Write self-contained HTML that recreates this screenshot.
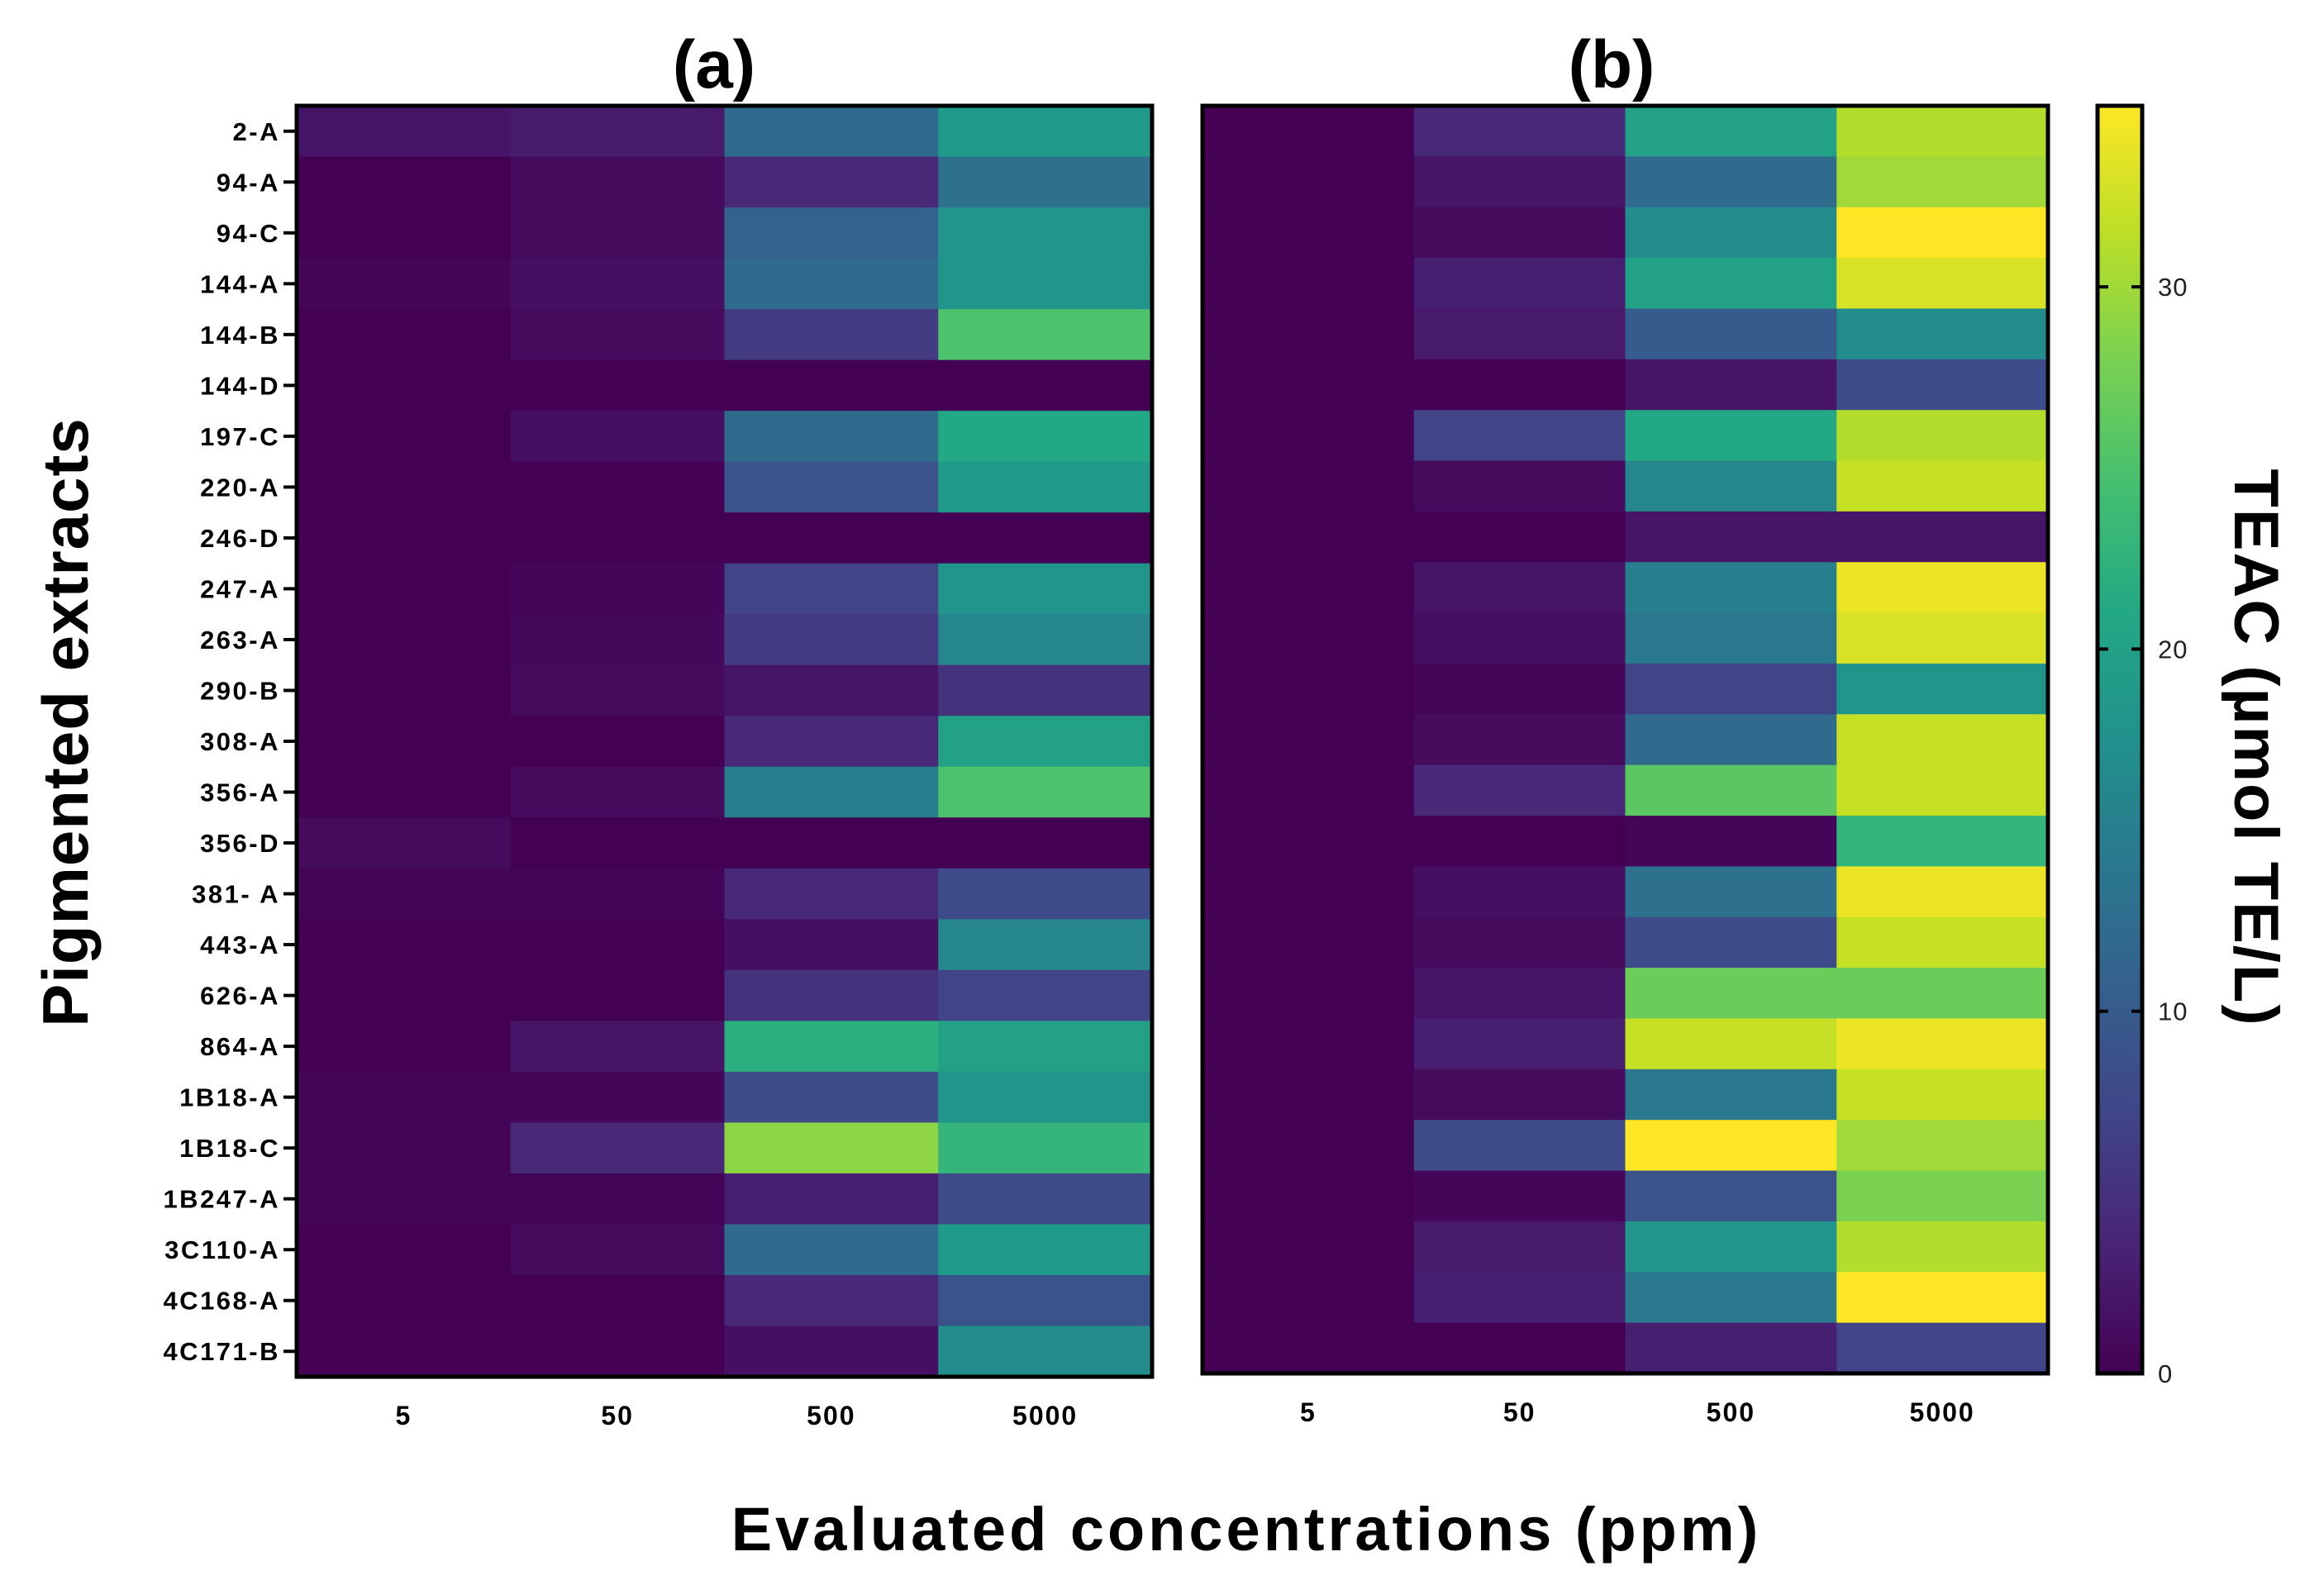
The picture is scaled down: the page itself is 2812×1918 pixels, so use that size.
<!DOCTYPE html>
<html><head><meta charset="utf-8"><style>
html,body{margin:0;padding:0;background:#fff;}
svg{display:block;font-family:"Liberation Sans",Arial,sans-serif;}
</style></head><body>
<svg id="chart" width="2812" height="1918" viewBox="0 0 2812 1918" xmlns="http://www.w3.org/2000/svg">
<defs>
<linearGradient id="vir" x1="0" y1="1" x2="0" y2="0">
<stop offset="0" stop-color="#440154"/><stop offset="0.1" stop-color="#482475"/><stop offset="0.2" stop-color="#414487"/><stop offset="0.3" stop-color="#355f8d"/><stop offset="0.4" stop-color="#2a788e"/><stop offset="0.5" stop-color="#21918c"/><stop offset="0.6" stop-color="#22a884"/><stop offset="0.7" stop-color="#44bf70"/><stop offset="0.8" stop-color="#7ad151"/><stop offset="0.9" stop-color="#bddf26"/><stop offset="1" stop-color="#fde725"/>
</linearGradient>
</defs>
<g id="cells"></g>
<text x="864" y="106" font-size="82" font-weight="bold" text-anchor="middle">(a)</text>
<text x="1950" y="106" font-size="82" font-weight="bold" text-anchor="middle">(b)</text>
<text transform="translate(106,874) rotate(-90)" font-size="78" font-weight="bold" text-anchor="middle" letter-spacing="1">Pigmented extracts</text>
<text x="1508" y="1876" font-size="74" font-weight="bold" text-anchor="middle" letter-spacing="4">Evaluated concentrations (ppm)</text>
<rect x="2538" y="128" width="54" height="1534" fill="url(#vir)" stroke="#000" stroke-width="5"/>
<text transform="translate(2704,905) rotate(90)" font-size="76" font-weight="bold" text-anchor="middle" letter-spacing="2">TEAC (µmol TE/L)</text>
</svg>
<script>
const rowLabels = ["2-A","94-A","94-C","144-A","144-B","144-D","197-C","220-A","246-D","247-A","263-A","290-B","308-A","356-A","356-D","381- A","443-A","626-A","864-A","1B18-A","1B18-C","1B247-A","3C110-A","4C168-A","4C171-B"];
const concentrations = ["5","50","500","5000"];
const valuesA = [
[2,2.5,12,19],[0,1,4,13],[0,1,11,18],[0.5,1.5,12,18],[0,1,6,25],[0,0,0,0],[0,1.5,12,21],[0,0,9,19],[0,0,0,0],[0,0.5,7,18],
[0,0.8,6,16],[0,1,2,5],[0,0,4,20],[0,1,15,25],[1,0,0,0],[0.3,0.3,4,8],[0,0,1.5,16],[0,0,5,7],[0,2,22,20],[0.3,0.5,8,18],
[0.5,4,29,23],[0.3,0.3,3,8],[0,1,12,19],[0,0,4,9],[0,0,1.5,17]];
const valuesB = [
[0,4,20,31],[0,2,12,30],[0,1,17,35],[0,3,20,33],[0,2.5,10,17],[0,0,2,8],[0,7,21,31],[0,1,16,32],[0,0,2,2],[0,2,15,34],
[0,1.5,14,33],[0,0.5,7,18],[0,1,12,32],[0,4,26,32],[0,0,0.5,23],[0,1.5,13,34],[0,1,8,32],[0,2,27,27],[0,3,32,34],[0,1,14,32],
[0,8,35,30],[0,0.5,9,28],[0,2.5,18,31],[0,3,14,35],[0,0,3,7]];
const cbTicks = [0,10,20,30];
const vmin = 0, vmax = 35;

const NS = "http://www.w3.org/2000/svg";
const svg = document.getElementById('chart');
const cellsG = document.getElementById('cells');
const vir = ["#440154","#482475","#414487","#355f8d","#2a788e","#21918c","#22a884","#44bf70","#7ad151","#bddf26","#fde725"];
function hex(c){return [parseInt(c.slice(1,3),16),parseInt(c.slice(3,5),16),parseInt(c.slice(5,7),16)];}
function color(v){
  let t = Math.max(0,Math.min(1,(v-vmin)/(vmax-vmin)))*(vir.length-1);
  let i = Math.min(Math.floor(t), vir.length-2), f = t-i;
  let a = hex(vir[i]), b = hex(vir[i+1]);
  return "rgb("+a.map((x,k)=>Math.round(x+(b[k]-x)*f)).join(",")+")";
}
function mk(tag, attrs, parent){
  const e = document.createElementNS(NS, tag);
  for (const k in attrs) e.setAttribute(k, attrs[k]);
  (parent||svg).appendChild(e);
  return e;
}
const panels = [
  {name:"a", x0:359, x1:1394, y0:128, y1:1666, vals:valuesA, labels:true},
  {name:"b", x0:1455, x1:2478, y0:128, y1:1662, vals:valuesB, labels:false}
];
panels.forEach(p=>{
  const nR = rowLabels.length, nC = concentrations.length;
  const cw = (p.x1-p.x0)/nC, rh = (p.y1-p.y0)/nR;
  const xPos = j => p.x0 + j*cw;
  const yPos = i => p.y0 + i*rh;
  p.vals.forEach((row,i)=>row.forEach((v,j)=>{
    const r = mk('rect',{x:xPos(j),y:yPos(i),width:cw+0.6,height:rh+0.6,fill:color(v)},cellsG);
    
    
  }));
  const fr = mk('rect',{x:p.x0,y:p.y0,width:p.x1-p.x0,height:p.y1-p.y0,fill:"none",stroke:"#000","stroke-width":5});
  
  
  concentrations.forEach((c,j)=>{
    const t = mk('text',{x:xPos(j)+cw/2,y:p.y1+58,"font-size":32,"font-weight":"bold","text-anchor":"middle","letter-spacing":2});
    t.textContent = c;
    
    
  });
  if (p.labels){
    rowLabels.forEach((l,i)=>{
      const y = yPos(i)+rh/2;
      const tk = mk('line',{x1:p.x0-16,x2:p.x0,y1:y,y2:y,stroke:"#000","stroke-width":4});
      
      
      const t = mk('text',{x:p.x0-20,y:y+11,"font-size":31,"font-weight":"bold","text-anchor":"end","letter-spacing":2.5});
      t.textContent = l;
      
      
    });
  }
});
const cbY0 = 1662, cbY1 = 128;
const cbScale = v => cbY0 - (v-vmin)/(vmax-vmin)*(cbY0-cbY1);
cbTicks.forEach(v=>{
  const y = cbScale(v);
  const l1 = mk('line',{x1:2538,x2:2551,y1:y,y2:y,stroke:"#000","stroke-width":4});
  
  
  const l2 = mk('line',{x1:2579,x2:2592,y1:y,y2:y,stroke:"#000","stroke-width":4});
  
  
  const t = mk('text',{x:2611,y:y+11,"font-size":31,"text-anchor":"start",fill:"#222","letter-spacing":1});
  t.textContent = v;
  
  
});
</script>
</body></html>
